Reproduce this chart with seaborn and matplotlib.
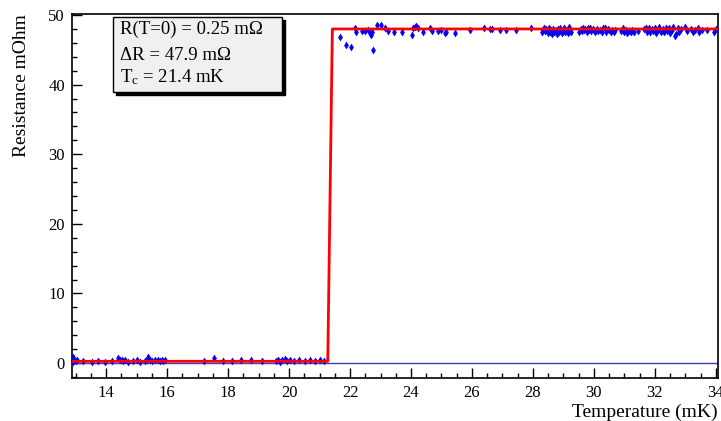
import matplotlib
matplotlib.use("Agg")
import matplotlib.pyplot as plt
import seaborn as sns
import pandas as pd
from matplotlib.patches import Rectangle
from matplotlib.ticker import MultipleLocator

# ---- data ----
low_T = [12.90, 12.92, 12.95, 13.00, 13.03, 13.25, 13.52, 13.74, 13.96, 14.18,
         14.40, 14.46, 14.51, 14.56, 14.62, 14.73, 14.89, 15.00, 15.11, 15.27,
         15.33, 15.38, 15.43, 15.49, 15.60, 15.71, 15.77, 15.82, 15.88, 15.93,
         17.21, 17.54, 17.84, 18.14, 18.41, 18.74, 19.10, 19.57, 19.64, 19.70,
         19.78, 19.86, 19.94, 20.03, 20.17, 20.34, 20.52, 20.69, 20.85, 21.01, 21.15]
low_R = [0.9, 0.1, 0.5, 0.3, 0.4, 0.3, 0.2, 0.3, 0.2, 0.3,
         0.7, 0.5, 0.4, 0.3, 0.4, 0.2, 0.3, 0.4, 0.2, 0.3,
         0.5, 0.8, 0.5, 0.3, 0.4, 0.4, 0.3, 0.4, 0.3, 0.4,
         0.3, 0.7, 0.3, 0.3, 0.4, 0.4, 0.3, 0.3, 0.5, 0.2,
         0.4, 0.6, 0.3, 0.4, 0.3, 0.4, 0.3, 0.4, 0.3, 0.4, 0.3]

high_T = [21.67, 21.86, 22.03, 22.16, 22.19, 22.38, 22.49, 22.59, 22.67, 22.70,
          22.73, 22.76, 22.89, 23.01, 23.14, 23.25, 23.44, 23.72, 24.02, 24.07,
          24.12, 24.16, 24.23, 24.40, 24.62, 24.70, 24.89, 25.00, 25.11, 25.16,
          25.44, 25.93, 26.40, 26.59, 26.66, 26.92, 27.13, 27.46, 27.93,
          28.30, 28.33, 28.36, 28.40, 28.44, 28.48, 28.52, 28.55, 28.58, 28.62,
          28.66, 28.70, 28.74, 28.78, 28.82, 28.86, 28.90, 28.94, 28.98, 29.02,
          29.06, 29.10, 29.14, 29.18, 29.22, 29.26,
          29.52, 29.56, 29.60, 29.64, 29.68, 29.72, 29.76, 29.80, 29.84, 29.88,
          29.92, 29.96, 30.00,
          30.05, 30.10, 30.15, 30.20, 30.25, 30.30, 30.35, 30.40, 30.45, 30.50,
          30.55, 30.60, 30.65, 30.70, 30.90, 30.95, 31.00, 31.05, 31.10, 31.15,
          31.20, 31.25, 31.30, 31.45, 31.65, 31.70, 31.75, 31.80, 31.85, 31.90,
          31.95, 32.00, 32.05, 32.10, 32.15, 32.20, 32.25, 32.30, 32.35, 32.40,
          32.45, 32.50, 32.55, 32.60, 32.65, 32.70, 32.75, 32.80, 32.85, 33.00,
          33.05, 33.20, 33.25, 33.30, 33.40, 33.45, 33.55, 33.70, 33.95, 34.00]
high_R = [46.9, 45.7, 45.35, 48.1, 47.6, 47.75, 47.7, 47.85, 47.4, 47.2,
          47.6, 45.0, 48.55, 48.55, 48.2, 47.7, 47.5, 47.5, 47.2, 48.2,
          48.3, 48.4, 48.1, 47.6, 48.1, 47.75, 47.75, 47.85, 47.4, 47.5,
          47.4, 47.85, 48.2, 48.0, 48.0, 47.85, 47.9, 47.85, 48.2,
          47.5, 47.9, 48.2, 47.7, 48.0, 47.4, 48.1, 47.6, 47.9, 47.3,
          48.0, 47.5, 47.8, 47.3, 48.0, 47.6, 48.1, 47.4, 47.8, 48.2,
          47.5, 47.9, 47.4, 48.3, 47.7, 47.5,
          47.6, 48.0, 47.7, 48.1, 47.8, 48.0, 47.6, 48.1, 47.9, 48.2,
          47.7, 48.0, 47.8,
          47.6, 48.0, 47.7, 47.9, 47.5, 48.1, 48.2, 47.6, 48.0, 47.8,
          47.5, 47.9, 47.6, 47.8, 47.7, 48.1, 47.6, 47.9, 47.4, 47.7,
          47.5, 47.8, 47.5, 47.7, 48.0, 48.2, 47.6, 48.1, 47.5, 48.0,
          47.7, 48.2, 47.4, 47.9, 48.3, 47.6, 48.0, 47.5, 48.2, 47.7,
          48.1, 47.4, 47.9, 48.3, 47.0, 47.3, 48.1, 47.6, 48.0, 48.3,
          47.7, 48.0, 47.6, 47.9, 48.1, 47.5, 47.9, 47.8, 47.5, 48.0]
R_err = 0.3

# step fit: R0 = 0.25, dR = 47.9, Tc = 21.4
fit_T = [12.88, 21.27, 21.42, 34.10]
fit_R = [0.25, 0.25, 48.0, 48.0]

fit_lines = ["R(T=0) = 0.25 m\u03a9", "\u0394R = 47.9 m\u03a9", r"T$_{\mathrm{c}}$ = 21.4 mK"]

df = pd.DataFrame({"T": low_T + high_T, "R": low_R + high_R})
fit_df = pd.DataFrame({"T": fit_T, "R": fit_R})

sns.set_theme(style="ticks")
plt.rcParams["font.family"] = ["Liberation Serif", "DejaVu Serif"]
plt.rcParams["mathtext.fontset"] = "custom"
plt.rcParams["mathtext.rm"] = "Liberation Serif"
plt.rcParams["mathtext.it"] = "Liberation Serif:italic"
plt.rcParams["text.color"] = "black"
plt.rcParams["axes.labelcolor"] = "black"
plt.rcParams["xtick.color"] = "black"
plt.rcParams["ytick.color"] = "black"

fig = plt.figure(figsize=(7.21, 4.21), dpi=100)
ax = fig.add_axes([72 / 721, 43 / 421, 646 / 721, 364 / 421])

ax.axhline(0, color="#3c3cc0", lw=1.0, zorder=1)
ax.errorbar(df["T"], df["R"], yerr=R_err, fmt="none", ecolor="blue", elinewidth=1.0, zorder=2)
sns.scatterplot(data=df, x="T", y="R", marker="d", s=13, color="blue",
                edgecolor="blue", linewidth=0.3, ax=ax, zorder=3)
sns.lineplot(data=fit_df, x="T", y="R", sort=False, estimator=None,
             color="red", lw=2.0, ax=ax, zorder=4)

ax.set_xlim(12.88, 34.07)
ax.set_ylim(-2.15, 50.15)
ax.xaxis.set_major_locator(MultipleLocator(2))
ax.xaxis.set_minor_locator(MultipleLocator(0.5))
ax.yaxis.set_major_locator(MultipleLocator(10))
ax.yaxis.set_minor_locator(MultipleLocator(2))
ax.tick_params(which="both", direction="in", top=False, right=False, labelsize=12,
               width=1.0, color="black")
ax.tick_params(which="major", length=7.5, pad=5)
ax.tick_params(which="minor", length=3.8)
for sp in ax.spines.values():
    sp.set_linewidth(1.2)
    sp.set_color("black")

ax.set_xlabel("Temperature (mK)", fontsize=14, loc="right", labelpad=2)
ax.set_ylabel("Resistance mOhm", fontsize=14, loc="top", labelpad=13)

# stats box with shadow (ROOT style)
bx, by, bw, bh = 113 / 721, (421 - 92) / 421, 169 / 721, 75 / 421
fig.patches.append(Rectangle((bx + 3 / 721, by - 3 / 421), bw, bh, transform=fig.transFigure,
                             facecolor="black", edgecolor="black", zorder=5))
fig.patches.append(Rectangle((bx, by), bw, bh, transform=fig.transFigure,
                             facecolor="#f0f0f0", edgecolor="black", lw=1.0, zorder=6))
for line, ypix in zip(fit_lines, [29, 55, 77]):
    fig.text(120 / 721, 1 - ypix / 421, line, fontsize=13.5, va="center", ha="left", zorder=7)

fig.savefig("out.png", dpi=100)
